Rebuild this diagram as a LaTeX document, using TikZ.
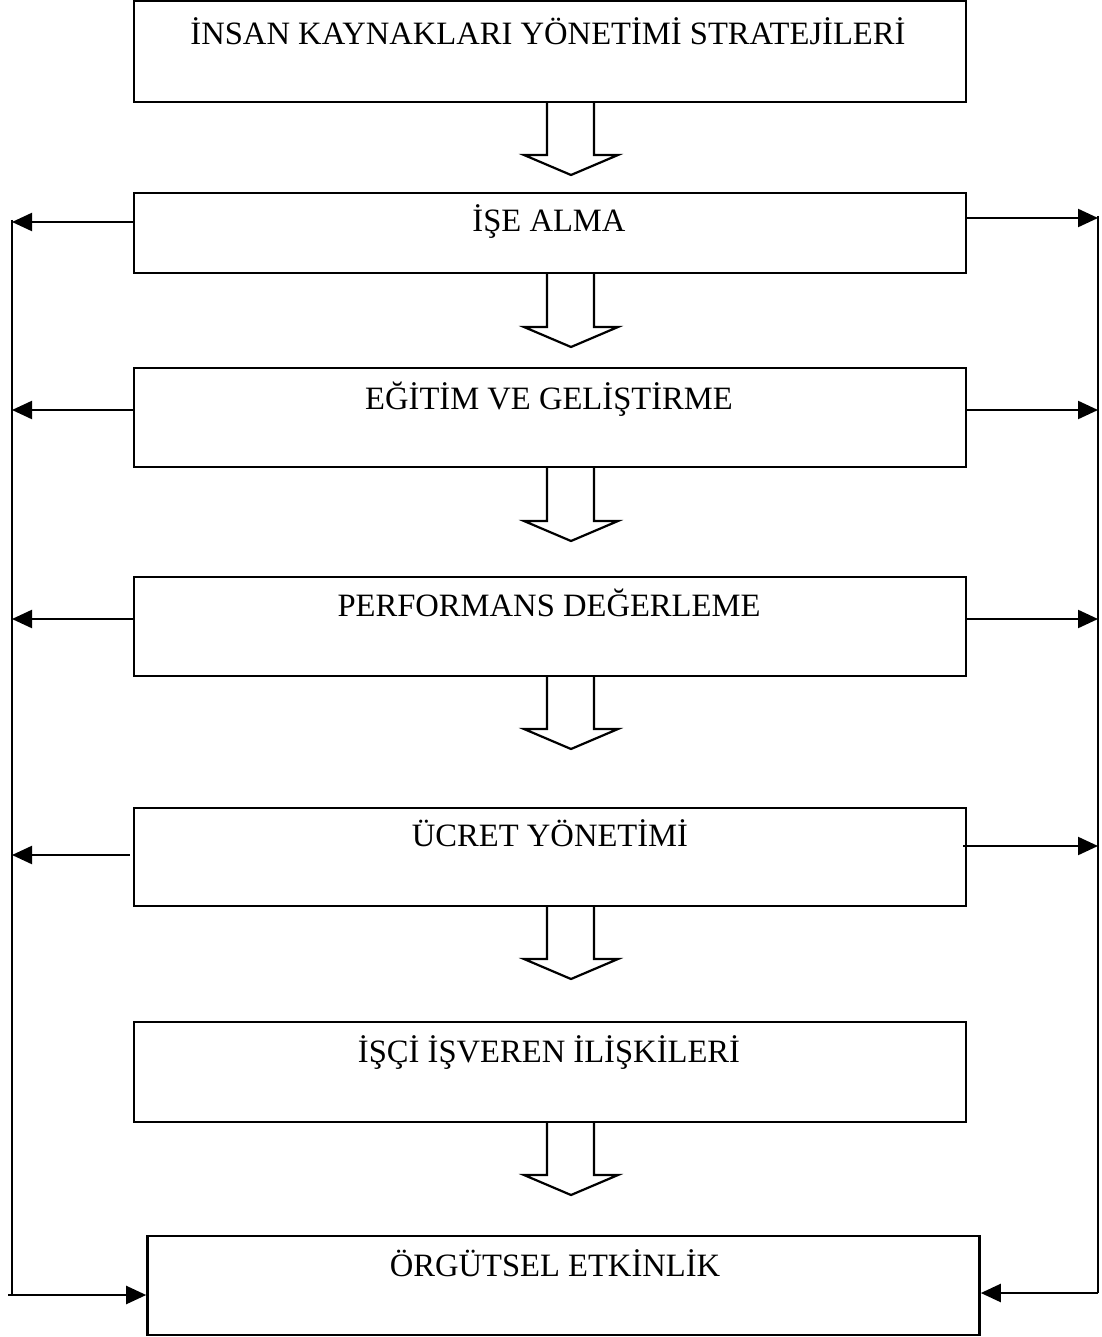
\documentclass[tikz,border=0pt]{standalone}
\usepackage{fontspec}
\setmainfont{Liberation Serif}
\usetikzlibrary{arrows.meta}
\begin{document}
\begin{tikzpicture}[x=1pt,y=-1pt,
  box/.style={draw,line width=2.6pt,minimum width=832pt,inner sep=0pt},
  lbl/.style={font=\fontsize{32.6}{38}\selectfont,inner sep=0pt,anchor=base},
  rail/.style={line width=2.2pt},
  arr/.style={line width=2.2pt,-{Triangle[length=20pt,width=18pt]}},
  blk/.style={line width=2.2pt,line join=miter}]
\useasboundingbox (0,0) rectangle (1101,1337);
% boxes
\node[box,minimum height=101pt] (b1) at (550,51.5) {};
\node[box,minimum height=80pt] (b2) at (550,233) {};
\node[box,minimum height=99pt] (b3) at (550,417.5) {};
\node[box,minimum height=99pt] (b4) at (550,626.5) {};
\node[box,minimum height=98pt] (b5) at (550,857) {};
\node[box,minimum height=100pt] (b6) at (550,1072) {};
\node[box,minimum height=99pt] (b7) at (563.5,1285.5) {};
% labels
\node[lbl] (t1) at (548,45) {İNSAN KAYNAKLARI YÖNETİMİ STRATEJİLERİ};
\node[lbl] (t2) at (549,232) {İŞE ALMA};
\node[lbl] (t3) at (549,409) {EĞİTİM VE GELİŞTİRME};
\node[lbl] (t4) at (549,616) {PERFORMANS DEĞERLEME};
\node[lbl] (t5) at (550,846) {ÜCRET YÖNETİMİ};
\node[lbl] (t6) at (549,1062) {İŞÇİ İŞVEREN İLİŞKİLERİ};
\node[lbl] (t7) at (555,1276) {ÖRGÜTSEL ETKİNLİK};
% block arrows
\foreach \a/\b in {102/155,273/327,467/521,676/729,906/959,1122/1175}{
  \draw[blk] (547,\a) -- (547,\b) -- (524,\b) -- (571,\b+20) -- (618,\b) -- (594,\b) -- (594,\a);
}
% rails
\coordinate (Ltop) at (12,220);
\coordinate (Lbot) at (12,1295);
\coordinate (Rtop) at (1098,216);
\coordinate (Rbot) at (1098,1293);
\draw[rail] (Ltop) -- (Lbot);
\draw[rail] (Rtop) -- (Rbot);
% left arrows
\draw[arr] (b2.west |- 0,222) -- (Ltop |- 0,222);
\draw[arr] (b3.west |- 0,410) -- (Ltop |- 0,410);
\draw[arr] (b4.west |- 0,619) -- (Ltop |- 0,619);
\draw[arr] ([xshift=-3pt]b5.west |- 0,855) -- (Ltop |- 0,855);
% right arrows
\draw[arr] (b2.east |- 0,218) -- (Rtop |- 0,218);
\draw[arr] (b3.east |- 0,410) -- (Rtop |- 0,410);
\draw[arr] (b4.east |- 0,619) -- (Rtop |- 0,619);
\draw[arr] ([xshift=-4pt]b5.east |- 0,846) -- (Rtop |- 0,846);
% bottom arrows into final box
\draw[arr] ([xshift=-4pt]Lbot) -- (b7.west |- Lbot);
\draw[arr] (Rbot) -- (b7.east |- Rbot);
\end{tikzpicture}
\end{document}
